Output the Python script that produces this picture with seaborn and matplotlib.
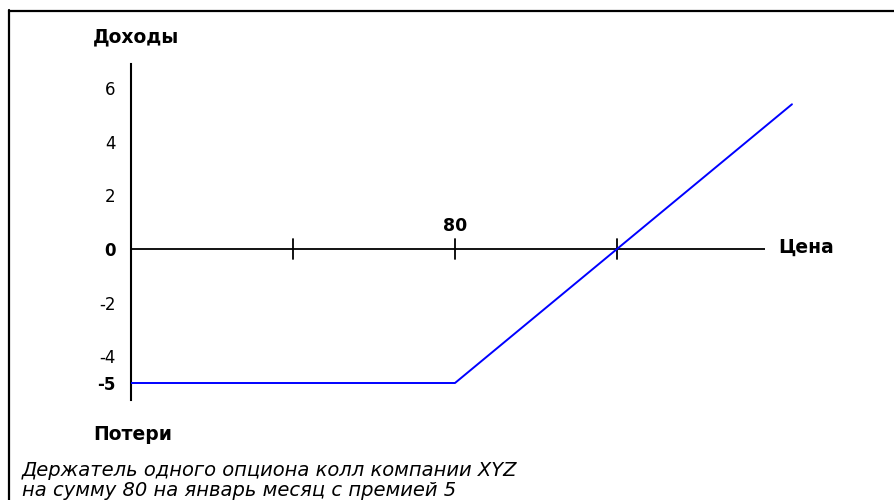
import matplotlib
matplotlib.use("Agg")
import matplotlib.pyplot as plt
import seaborn as sns
import pandas as pd
from matplotlib.lines import Line2D

# ---- data ----
price = [70, 80, 90.4]
payoff = [-5, -5, 5.4]
x_ticks = [75, 80, 85]
x_tick_labels = ["", "80", ""]
y_ticks = [6, 4, 2, 0, -2, -4, -5]
y_tick_labels = ["6", "4", "2", "0", "-2", "-4", "-5"]
bold_y = ["0", "-5"]
y_title = "Доходы"
x_title = "Цена"
loss_title = "Потери"
caption = ["Держатель одного опциона колл компании XYZ",
           "на сумму 80 на январь месяц с премией 5"]

sns.set_theme(style="white")
plt.rcParams['font.family'] = ['DejaVu Sans']

W, H = 895, 500
fig = plt.figure(figsize=(W / 100, H / 100), dpi=100)
fig.patch.set_facecolor("white")

# axes placement (pixel geometry)
ax_l, ax_r, ax_t, ax_b = 131, 800, 64, 400
ax = fig.add_axes([ax_l / W, 1 - ax_b / H, (ax_r - ax_l) / W, (ax_b - ax_t) / H])
xpx, ypx = 32.4, 26.8
x0, y0px = 70, 249
ax.set_xlim(x0, x0 + (ax_r - ax_l) / xpx)
ax.set_ylim(-(ax_b - y0px) / ypx, (y0px - ax_t) / ypx)
ax.set_facecolor("white")

for s in ["top", "right", "bottom"]:
    ax.spines[s].set_visible(False)
ax.spines["left"].set_color("black")
ax.spines["left"].set_linewidth(1.5)

# zero line (price axis)
x_end = x0 + (765 - ax_l) / xpx
ax.plot([x0, x_end], [0, 0], color="black", lw=1.3, solid_capstyle="butt", zorder=2)
for xt, lab in zip(x_ticks, x_tick_labels):
    ax.plot([xt, xt], [-0.38, 0.38], color="black", lw=1.3, zorder=2)
    if lab:
        ax.text(xt, 0.85, lab, ha="center", va="center", fontsize=12.5,
                fontweight="bold", color="black")

df = pd.DataFrame({"price": price, "payoff": payoff})
sns.lineplot(data=df, x="price", y="payoff", color="#0000ff", lw=1.4, ax=ax, zorder=3)

ax.set_xticks([])
ax.set_yticks(y_ticks)
ax.set_yticklabels(y_tick_labels)
ax.tick_params(axis="y", length=0, pad=11, labelsize=12, labelcolor="black")
for t in ax.get_yticklabels():
    if t.get_text() in bold_y:
        t.set_fontweight("bold")
ax.set_xlabel("")
ax.set_ylabel("")

# titles
fig.text(93 / W, 1 - 37 / H, y_title, ha="left", va="center", fontsize=13.5,
         fontweight="bold", color="black")
fig.text(778 / W, 1 - 247 / H, x_title, ha="left", va="center", fontsize=13.5,
         fontweight="bold", color="black")
fig.text(93 / W, 1 - 435 / H, loss_title, ha="left", va="center", fontsize=13.5,
         fontweight="bold", color="black")
fig.text(22 / W, 1 - 470 / H, caption[0], ha="left", va="center", fontsize=14,
         style="italic", color="black")
fig.text(22 / W, 1 - 490 / H, caption[1], ha="left", va="center", fontsize=14,
         style="italic", color="black")

# frame (left and top border)
fig.add_artist(Line2D([8.5 / W, 8.5 / W], [0, 1 - 10 / H], transform=fig.transFigure,
                      color="black", lw=1.6))
fig.add_artist(Line2D([8.5 / W, 1], [1 - 10.5 / H, 1 - 10.5 / H], transform=fig.transFigure,
                      color="black", lw=1.6))

fig.savefig("out.png", dpi=100, facecolor="white")
